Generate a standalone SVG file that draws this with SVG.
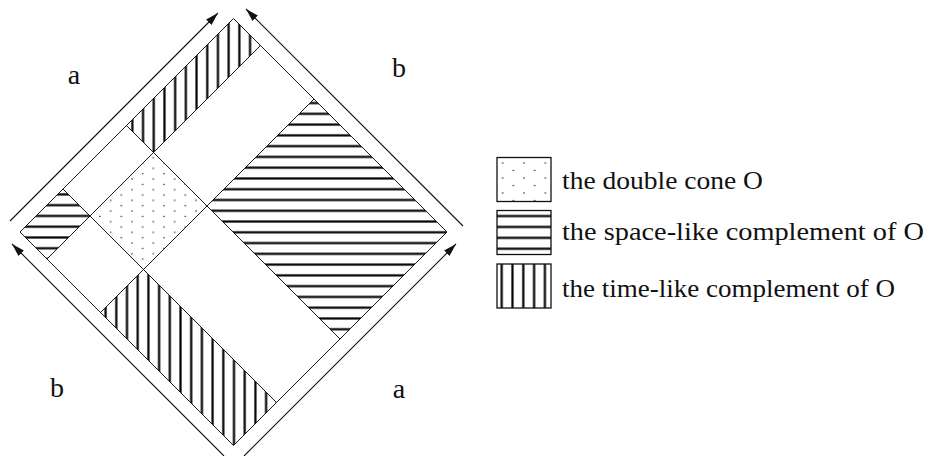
<svg xmlns="http://www.w3.org/2000/svg" width="928" height="456" viewBox="0 0 928 456">
<style>
.edge{fill:none;stroke:#1a1a1a;stroke-width:1}
.arrow{fill:none;stroke:#111;stroke-width:1.1;marker-end:url(#ah)}
.lbl{font-family:"Liberation Serif","DejaVu Serif",serif;font-size:28px;fill:#111;text-anchor:middle}
.leg{font-family:"Liberation Serif","DejaVu Serif",serif;font-size:26px;fill:#111}
.box{stroke:#111;stroke-width:1.3}
</style>
<defs>
<marker id="ah" markerUnits="userSpaceOnUse" markerWidth="14" markerHeight="9" refX="13" refY="4.5" orient="auto">
<path d="M0,0.7 L13,4.5 L0,8.3 z" fill="#111"/>
</marker>
<pattern id="dotsO" patternUnits="userSpaceOnUse" x="153.3" y="157.7" width="21.33" height="10.67">
<circle cx="0" cy="0" r="0.8" fill="#222"/>
<circle cx="21.33" cy="0" r="0.8" fill="#222"/>
<circle cx="0" cy="10.67" r="0.8" fill="#222"/>
<circle cx="21.33" cy="10.67" r="0.8" fill="#222"/>
<circle cx="10.67" cy="5.33" r="0.8" fill="#222"/>
</pattern>
<pattern id="dotsL" patternUnits="userSpaceOnUse" x="502.7" y="163" width="21.33" height="15">
<circle cx="0" cy="0" r="0.8" fill="#222"/>
<circle cx="21.33" cy="0" r="0.8" fill="#222"/>
<circle cx="0" cy="15" r="0.8" fill="#222"/>
<circle cx="21.33" cy="15" r="0.8" fill="#222"/>
<circle cx="10.67" cy="7.5" r="0.8" fill="#222"/>
</pattern>
<pattern id="hR" patternUnits="userSpaceOnUse" x="0" y="226.92" width="20" height="10.77">
<line x1="-1" y1="5.385" x2="21" y2="5.385" stroke="#000" stroke-width="2.2"/>
</pattern>
<pattern id="hL" patternUnits="userSpaceOnUse" x="0" y="221.32" width="20" height="10.77">
<line x1="-1" y1="5.385" x2="21" y2="5.385" stroke="#000" stroke-width="2.2"/>
</pattern>
<pattern id="hLeg" patternUnits="userSpaceOnUse" x="0" y="210.6" width="20" height="10.9">
<line x1="-1" y1="5.45" x2="21" y2="5.45" stroke="#000" stroke-width="2.2"/>
</pattern>
<pattern id="vT" patternUnits="userSpaceOnUse" x="127" y="0" width="10.7" height="20">
<line x1="5.35" y1="-1" x2="5.35" y2="21" stroke="#000" stroke-width="2.2"/>
</pattern>
<pattern id="vB" patternUnits="userSpaceOnUse" x="228.65" y="0" width="10.7" height="20">
<line x1="5.35" y1="-1" x2="5.35" y2="21" stroke="#000" stroke-width="2.2"/>
</pattern>
<pattern id="vLeg" patternUnits="userSpaceOnUse" x="496.35" y="0" width="10.8" height="20">
<line x1="5.35" y1="-1" x2="5.35" y2="21" stroke="#000" stroke-width="2.2"/>
</pattern>
</defs>
<rect width="928" height="456" fill="#fff"/>

<g id="double-cone">
<polygon points="153.5,152.5 207,206 143.5,269.5 90,216" fill="url(#dotsO)"/>
</g>
<g id="timelike-top">
<polygon points="126.5,125.5 233.5,18.5 260.5,45.5 153.5,152.5" fill="url(#vT)"/>
</g>
<g id="timelike-bottom">
<polygon points="143.5,269.5 100.5,312.5 233.5,445.5 276.5,402.5" fill="url(#vB)"/>
</g>
<g id="spacelike-left">
<polygon points="63,189 20,232 47,259 90,216" fill="url(#hL)"/>
</g>
<g id="spacelike-right">
<polygon points="207,206 314,99 447,232 340,339" fill="url(#hR)"/>
</g>

<g id="grid">
<polygon class="edge" points="233.5,18.5 447,232 233.5,445.5 20,232"/>
<line class="edge" x1="47" y1="259" x2="260.5" y2="45.5"/>
<line class="edge" x1="100.5" y1="312.5" x2="314" y2="99"/>
<line class="edge" x1="126.5" y1="125.5" x2="340" y2="339"/>
<line class="edge" x1="63" y1="189" x2="276.5" y2="402.5"/>
</g>

<g id="connectors">
<line class="arrow" x1="10" y1="221" x2="218" y2="13"/>
<line class="arrow" x1="463" y1="226" x2="246" y2="9"/>
<line class="arrow" x1="224" y1="456" x2="12" y2="244"/>
<line class="arrow" x1="244" y1="456" x2="456" y2="244"/>
</g>

<g id="labels">
<text class="lbl" x="74" y="84">a</text>
<text class="lbl" x="399" y="77">b</text>
<text class="lbl" x="57" y="397">b</text>
<text class="lbl" x="399" y="398">a</text>
</g>

<g id="legend-cone">
<rect class="box" x="497" y="157.5" width="54" height="44" fill="url(#dotsL)"/>
<text class="leg" x="562" y="189" textLength="201" lengthAdjust="spacingAndGlyphs">the double cone O</text>
</g>
<g id="legend-spacelike">
<rect class="box" x="497" y="210.5" width="54" height="44" fill="url(#hLeg)"/>
<text class="leg" x="562" y="240" textLength="362" lengthAdjust="spacingAndGlyphs">the space-like complement of O</text>
</g>
<g id="legend-timelike">
<rect class="box" x="497" y="264" width="54" height="44" fill="url(#vLeg)"/>
<text class="leg" x="562" y="297" textLength="333" lengthAdjust="spacingAndGlyphs">the time-like complement of O</text>
</g>
</svg>
